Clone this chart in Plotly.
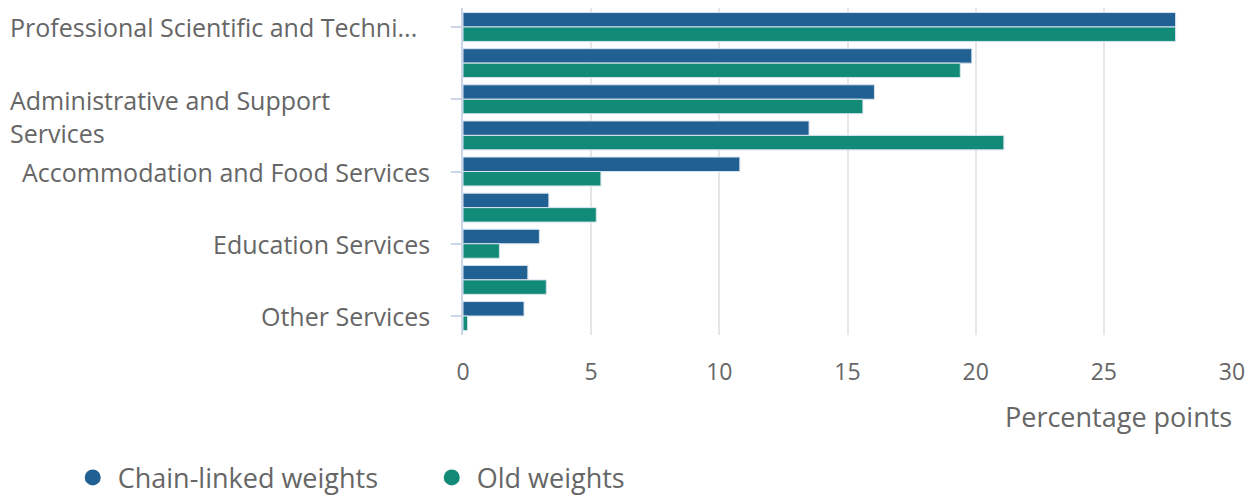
import plotly.graph_objects as go

categories = [
    "Professional Scientific and Technical Services",
    "Information Media and Telecommunications",
    "Administrative and Support Services",
    "Rental, Hiring and Real Estate Services",
    "Accommodation and Food Services",
    "Arts and Recreation Services",
    "Education Services",
    "Health Care and Social Assistance",
    "Other Services",
]
chain_linked = [27.8, 19.85, 16.05, 13.5, 10.8, 3.35, 2.98, 2.53, 2.38]
old_weights = [27.8, 19.4, 15.6, 21.1, 5.38, 5.2, 1.42, 3.25, 0.18]

# Visible category labels (every other category), as displayed in the reference
label_cats = [categories[0], categories[2], categories[4], categories[6], categories[8]]
label_texts = [
    "Professional Scientific and Techni...",
    "Administrative and Support<br>Services",
    "Accommodation and Food Services",
    "Education Services",
    "Other Services",
]
label_left = [True, True, False, False, False]

x_ticks = [0, 5, 10, 15, 20, 25, 30]

BLUE = "#216092"
GREEN = "#128a78"
TXT = "#666666"
FONT = "Open Sans"

fig = go.Figure()
fig.add_trace(go.Bar(y=categories, x=chain_linked, orientation="h", name="Chain-linked weights",
                     marker=dict(color=BLUE, line=dict(color="#d8e3ee", width=1)),
                     showlegend=False, legendgroup="a"))
fig.add_trace(go.Bar(y=categories, x=old_weights, orientation="h", name="Old weights",
                     marker=dict(color=GREEN, line=dict(color="#d8e3ee", width=1)),
                     showlegend=False, legendgroup="b"))
# legend entries with circle symbols
fig.add_trace(go.Scatter(x=[None], y=[None], mode="markers", name="Chain-linked weights",
                         marker=dict(color=BLUE, size=16, symbol="circle"), legendgroup="a"))
fig.add_trace(go.Scatter(x=[None], y=[None], mode="markers", name="Old weights",
                         marker=dict(color=GREEN, size=16, symbol="circle"), legendgroup="b"))

annotations = []
for cat, txt, left in zip(label_cats, label_texts, label_left):
    multi = "<br>" in txt
    annotations.append(dict(
        x=0, xref="paper", y=cat, yref="y",
        text=txt, showarrow=False,
        xanchor="left" if left else "right",
        xshift=-455 if left else -31,
        yanchor="top" if multi else "middle",
        yshift=18 if multi else 0,
        align="left" if left else "right",
        font=dict(family=FONT, size=25, color=TXT),
    ))
annotations.append(dict(
    x=1, xref="paper", y=-0.248, yref="paper", text="Percentage points",
    showarrow=False, xanchor="right", yanchor="middle", xshift=2,
    font=dict(family=FONT, size=27, color=TXT)))

fig.update_layout(
    width=1255, height=495,
    margin=dict(l=463, r=23, t=8, b=160, autoexpand=False),
    paper_bgcolor="white", plot_bgcolor="white",
    barmode="group", bargap=0.2, bargroupgap=0,
    font=dict(family=FONT, size=20, color=TXT),
    xaxis=dict(range=[0, 30], tickvals=x_ticks, showgrid=True, gridcolor="#e6e6e6", gridwidth=1.5,
               zeroline=False, showline=False, ticks="", ticklabelstandoff=21,
               tickfont=dict(family=FONT, size=23, color=TXT)),
    yaxis=dict(categoryorder="array", categoryarray=categories, autorange="reversed",
               tickmode="array", tickvals=label_cats, showticklabels=False,
               ticks="outside", ticklen=10, tickcolor="#ccd6eb", tickwidth=1.5,
               showline=True, linecolor="#ccd6eb", linewidth=1.5, showgrid=False, zeroline=False),
    legend=dict(orientation="h", x=-0.514, xanchor="left", y=-0.437, yanchor="middle",
                font=dict(family=FONT, size=27, color=TXT), entrywidth=304, itemclick=False,
                itemwidth=40),
    annotations=annotations,
)

fig.write_html("out.html")
